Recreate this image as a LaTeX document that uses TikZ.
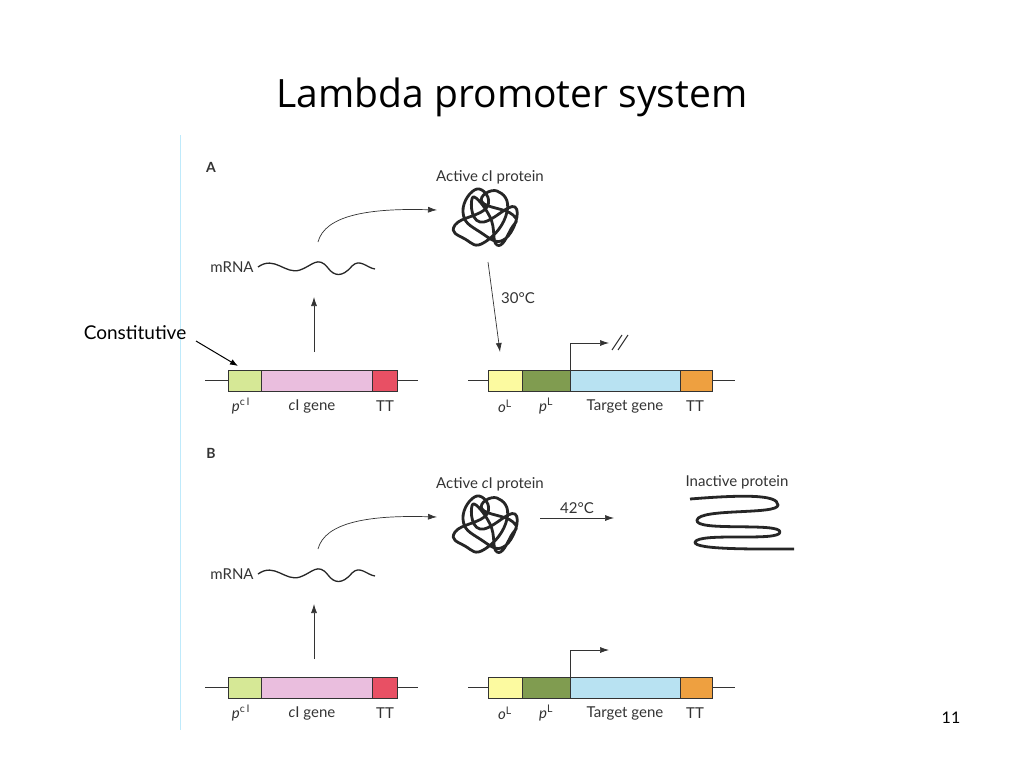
\documentclass[tikz,border=0pt]{standalone}
\usepackage{fontspec}
\setmainfont{Lato}
\newfontfamily\titlefont{Open Sans}
\usetikzlibrary{arrows.meta}
\begin{document}
\begin{tikzpicture}[x=1pt,y=-1pt,
  lbl/.style={font=\fontsize{15}{17}\selectfont, text=black!80, inner sep=0},
  arr/.style={-{Latex[length=9pt,width=6pt]}, line width=0.7pt, black!80},
  blk/.style={draw=black!80, line width=0.7pt},
  tangle/.style={line width=2.8pt, black!85, line join=round}]
\useasboundingbox (0,0) rectangle (1024,768);
\node[font=\titlefont\fontsize{39}{44}\selectfont] (title) at (512,97) {Lambda promoter system};
\draw[cyan!25, line width=1pt] (180,135) -- (180,730);
\node[font=\fontsize{19}{22}\selectfont,inner sep=0] (const) at (135,333) {Constitutive};
\coordinate (constEnd) at (238,366);
\draw[-{Latex[length=8pt,width=6pt]}, line width=1pt] (196,341) -- (constEnd);
\node[font=\fontsize{16}{18}\selectfont,inner sep=0] (pg) at (951,718) {11};
\node[font=\bfseries\fontsize{14}{16}\selectfont, text=black!80] (labA) at (211,167) {A};
\node[font=\bfseries\fontsize{14}{16}\selectfont, text=black!80] (labB) at (211,453) {B};

\foreach \dy/\pan in {0/A,307/B}{
\begin{scope}[yshift=-\dy]
% left construct
\draw[blk] (205,380) -- (418,380);
\draw[blk, fill={rgb,255:red,214;green,232;blue,150}] (228,370) rectangle (261,391);
\draw[blk, fill={rgb,255:red,234;green,190;blue,222}] (261,370) rectangle (372,391);
\draw[blk, fill={rgb,255:red,232;green,80;blue,100}] (372,370) rectangle (397,391);
\node[lbl] (p\pan) at (241,406) {\textit{p}$^{\mathrm{c\,I}}$};
\node[lbl] (g\pan) at (312,406) {\textit{c}I gene};
\node[lbl] (t\pan) at (385,406) {TT};
% right construct
\draw[blk] (468,380) -- (735,380);
\draw[blk, fill={rgb,255:red,252;green,250;blue,160}] (488,370) rectangle (522,391);
\draw[blk, fill={rgb,255:red,128;green,156;blue,80}] (522,370) rectangle (570,391);
\draw[blk, fill={rgb,255:red,184;green,226;blue,242}] (570,370) rectangle (680,391);
\draw[blk, fill={rgb,255:red,238;green,160;blue,64}] (680,370) rectangle (712,391);
\node[lbl] (o\pan) at (505,406) {\textit{o}$^{\mathrm{L}}$};
\node[lbl] (pl\pan) at (546,406) {\textit{p}$^{\mathrm{L}}$};
\node[lbl] (tg\pan) at (625,406) {Target gene};
\node[lbl] (tt\pan) at (695,406) {TT};
% transcription arrows
\coordinate (ts\pan) at (314,352);
\coordinate (te\pan) at (314,297);
\draw[arr] (ts\pan) -- (te\pan);
\node[lbl] (m\pan) at (232,267) {mRNA};
\draw[line width=1.3pt, black!85] (258,267) .. controls (275,255) and (285,275) .. (300,270)
  .. controls (312,266) and (318,255) .. (328,268) .. controls (334,276) and (342,278) .. (352,266)
  .. controls (360,258) and (367,268) .. (375,269);
\coordinate (cs\pan) at (318,242);
\coordinate (ce\pan) at (437,210);
\draw[arr] (cs\pan) .. controls (325,215) and (370,208) .. (ce\pan);
\node[lbl] (ac\pan) at (490,177) {Active \textit{c}I protein};
\begin{scope}[shift={(485,217)}, scale=1.0]
\draw[tangle] plot[smooth cycle, tension=0.9] coordinates {
 (-22,-5) (-8,-28) (2,-10) (-30,8) (-20,22) (0,25) (22,-5) (12,-26) (-3,-15) (28,-2) (26,12) (12,28) (5,0) (-12,-20) (-5,5) (30,-10) (20,22) (-5,15)};
\end{scope}
% promoter arrow
\coordinate (pr\pan) at (570,370);
\coordinate (pe\pan) at (609,343);
\draw[arr] (pr\pan) |- (pe\pan);
\end{scope}}

% panel A only
\coordinate (r1) at (488,262);
\coordinate (r2) at (500,352);
\draw[arr] (r1) -- (r2);
\node[lbl] (t30) at (518,298) {30°C};
\draw[line width=1pt, black!80] (612,350) -- (622,335) (618,350) -- (628,335);

% panel B only
\coordinate (h1) at (540,518);
\coordinate (h2) at (614,518);
\draw[arr] (h1) -- (h2);
\node[lbl] (t42) at (577,508) {42°C};
\node[lbl] (ip) at (737,482) {Inactive protein};
\draw[tangle] (690,499) .. controls (740,495) and (778,494) .. (778,505)
 .. controls (778,515) and (700,508) .. (697,520) .. controls (694,532) and (780,522) .. (780,532)
 .. controls (780,542) and (700,532) .. (695,542) .. controls (693,550) and (760,549) .. (794,549);
\end{tikzpicture}
\end{document}
